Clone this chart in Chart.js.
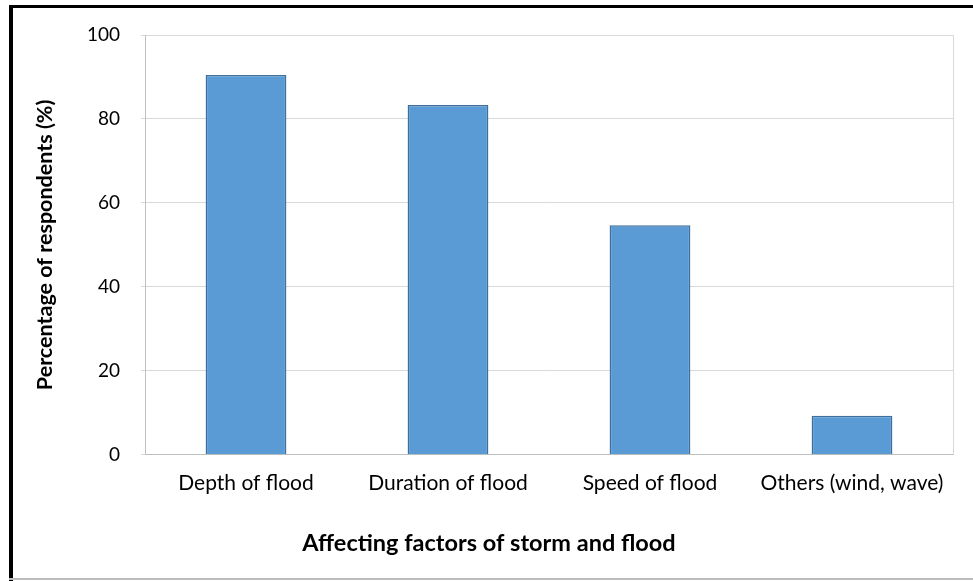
<!DOCTYPE html>
<html>
<head>
<meta charset="utf-8">
<script src="https://cdn.jsdelivr.net/npm/chart.js@4"></script>
<style>
  body { margin: 0; background: #fff; }
  #wrap { position: relative; width: 973px; height: 581px; }
</style>
</head>
<body>
<div id="wrap"><canvas id="myChart" width="973" height="581"></canvas></div>
<script>
'use strict';
/*------Chart data------*/
let factorNames = ['Depth of flood', 'Duration of flood', 'Speed of flood', 'Others (wind, wave)'];
let respondentPct = [90.5, 83.3, 54.7, 9.3];
let yTicks = [0, 20, 40, 60, 80, 100];

let fontName = 'Lato, "Liberation Sans", sans-serif';

// outer frame + right edge of plot area
const framePlugin = {
  id: 'frame',
  beforeDraw(chart) {
    let ctx = chart.ctx;
    ctx.save();
    ctx.fillStyle = '#fff';
    ctx.fillRect(0, 0, chart.width, chart.height);
    ctx.fillStyle = '#000';
    ctx.fillRect(9, 5, 4, 576);
    ctx.fillRect(9, 5, chart.width - 9, 3);
    ctx.fillStyle = '#bdbdbd';
    ctx.fillRect(9, 578, chart.width - 9, 2);
    ctx.restore();
  },
  afterDatasetsDraw(chart) {
    let ctx = chart.ctx;
    let a = chart.chartArea;
    ctx.save();
    ctx.strokeStyle = '#d9d9d9';
    ctx.lineWidth = 1;
    ctx.beginPath();
    ctx.moveTo(Math.round(a.right) + 0.5, a.top);
    ctx.lineTo(Math.round(a.right) + 0.5, a.bottom);
    ctx.stroke();
    ctx.restore();
  }
};

const config = {
  type: 'bar',
  data: {
    labels: factorNames,
    datasets: [{
      data: respondentPct,
      backgroundColor: '#5b9bd5',
      borderColor: '#3f6f9c',
      borderWidth: 1.5,
      categoryPercentage: 1,
      barPercentage: 0.4,
    }],
  },
  options: {
    responsive: false,
    animation: false,
    layout: { padding: { left: 25, right: 20, top: 35, bottom: 20 } },
    plugins: {
      legend: { display: false },
      tooltip: { enabled: false },
      title: {
        display: true,
        position: 'bottom',
        text: 'Affecting factors of storm and flood',
        color: '#000',
        font: { family: fontName, size: 23.5, weight: 'bold' },
        padding: { top: 0, bottom: 3 },
      },
    },
    scales: {
      x: {
        grid: { display: false, drawTicks: false },
        border: { color: '#bfbfbf', width: 1 },
        ticks: { color: '#000', padding: 16, font: { family: fontName, size: 21 }, maxRotation: 0, autoSkip: false },
        afterFit(scale) { scale.height = 75; },
      },
      y: {
        min: 0,
        max: 100,
        afterBuildTicks(scale) { scale.ticks = yTicks.map(v => ({ value: v })); },
        grid: { color: '#d9d9d9', tickLength: 4 },
        border: { color: '#bfbfbf', width: 1 },
        ticks: { color: '#000', padding: 21, font: { family: fontName, size: 19 } },
        title: {
          display: true,
          text: 'Percentage of respondents (%)',
          color: '#000',
          font: { family: fontName, size: 21.5, weight: 'bold' },
          padding: { top: 7, bottom: 0 },
        },
        afterFit(scale) { scale.width = 120; },
      },
    },
  },
  plugins: [framePlugin],
};

const myChart = new Chart(document.getElementById('myChart'), config);
</script>
</body>
</html>
